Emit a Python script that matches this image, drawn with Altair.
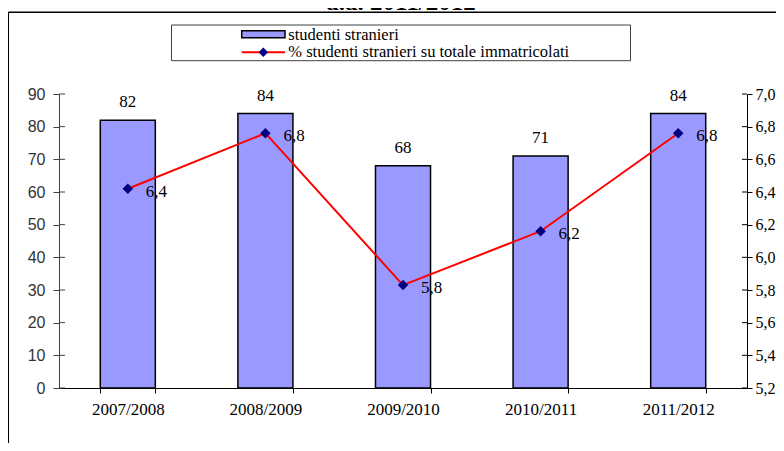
import altair as alt
import pandas as pd

# ---- data ----
years = ["2007/2008", "2008/2009", "2009/2010", "2010/2011", "2011/2012"]
students = [82, 84, 68, 71, 84]
pct = [6.42, 6.76, 5.83, 6.16, 6.76]
pct_labels = ["6,4", "6,8", "5,8", "6,2", "6,8"]
left_ticks = [0, 10, 20, 30, 40, 50, 60, 70, 80, 90]
right_ticks = [5.2, 5.4, 5.6, 5.8, 6.0, 6.2, 6.4, 6.6, 6.8, 7.0]
title_text = "a.a. 2011/2012"
legend_labels = ["studenti  stranieri", "% studenti stranieri su totale immatricolati"]

df = pd.DataFrame({"anno": years, "studenti": students, "pct": pct, "pct_label": pct_labels})
df_lt = pd.DataFrame({"v": left_ticks})
df_rt = pd.DataFrame({"v": right_ticks})

SERIF = "Liberation Serif"
SANS = "Liberation Sans"
BAR_FILL = "#9999FF"
NAVY = "#000080"

x = alt.X(
    "anno:N", sort=years,
    scale=alt.Scale(paddingInner=0.6, paddingOuter=0.3),
    axis=alt.Axis(title=None, labelAngle=0, labelFont=SERIF, labelFontSize=17,
                  labelColor="black", domainColor="black", tickColor="black",
                  tickSize=5, labelPadding=8, tickBand="extent"),
)

left_scale = alt.Scale(domain=[0, 90], nice=False)
right_scale = alt.Scale(domain=[5.2, 7.0], nice=False)

left_axis = alt.Axis(title=None, orient="left", values=left_ticks, labelFont=SANS,
                     labelFontSize=16, labelColor="#333333", domainColor="#404040",
                     tickColor="#404040", tickSize=6, labelPadding=8)
right_axis = alt.Axis(title=None, orient="right", values=right_ticks, labelFont=SERIF,
                      labelFontSize=16, labelColor="black", domainColor="black",
                      tickColor="black", tickSize=5, labelPadding=3,
                      labelExpr="replace(format(datum.value, '.1f'), '.', ',')")

y_left = alt.Y("studenti:Q", scale=left_scale, axis=left_axis)
y_right = alt.Y("pct:Q", scale=right_scale, axis=right_axis)

base = alt.Chart(df)

bars = base.mark_bar(color=BAR_FILL, stroke="black", strokeWidth=1.5).encode(x=x, y=y_left)
bar_text = base.mark_text(baseline="alphabetic", dy=-13, font=SERIF, fontSize=17,
                          color="black").encode(x=x, y=y_left, text="studenti:Q")
left_inner_ticks = alt.Chart(df_lt).mark_rule(color="#404040", strokeWidth=1).encode(
    y=alt.Y("v:Q", scale=left_scale, axis=left_axis), x=alt.value(0), x2=alt.value(6))
left = alt.layer(bars, bar_text, left_inner_ticks)

line = base.mark_line(color="red", strokeWidth=2).encode(x=x, y=y_right)
pts = base.mark_point(shape="diamond", filled=True, color=NAVY, size=110,
                      opacity=1).encode(x=x, y=y_right)
line_text = base.mark_text(align="left", baseline="alphabetic", dx=18, dy=8,
                           font=SERIF, fontSize=17, color="black").encode(
    x=x, y=y_right, text="pct_label:N")
right_inner_ticks = alt.Chart(df_rt).mark_rule(color="black", strokeWidth=1).encode(
    y=alt.Y("v:Q", scale=right_scale, axis=right_axis), x=alt.value(683), x2=alt.value(688))
right = alt.layer(line, pts, line_text, right_inner_ticks)

one = alt.Data(values=[{}])

frame_top = alt.Chart(one).mark_rule(color="black", strokeWidth=1.5).encode(
    x=alt.value(-50.7), x2=alt.value(730), y=alt.value(-81.7))
frame_left = alt.Chart(one).mark_rule(color="black", strokeWidth=1.5).encode(
    x=alt.value(-50.7), y=alt.value(-81.7), y2=alt.value(360))

title = alt.Chart(one).mark_text(font=SERIF, fontSize=25, fontWeight="bold",
                                 align="center", baseline="alphabetic",
                                 color="black").encode(
    x=alt.value(342), y=alt.value(-84.5), text=alt.value(title_text))

leg_box = alt.Chart(one).mark_rect(fill="white", stroke="#404040", strokeWidth=1).encode(
    x=alt.value(112.5), x2=alt.value(571.5), y=alt.value(-69), y2=alt.value(-33.3))
leg_swatch = alt.Chart(one).mark_rect(fill=BAR_FILL, stroke="black", strokeWidth=1.5).encode(
    x=alt.value(182.7), x2=alt.value(226), y=alt.value(-63.3), y2=alt.value(-56.3))
leg_text1 = alt.Chart(one).mark_text(align="left", baseline="middle", font=SERIF,
                                     fontSize=16.5, color="black").encode(
    x=alt.value(229.3), y=alt.value(-59), text=alt.value(legend_labels[0]))
leg_line = alt.Chart(one).mark_rule(color="red", strokeWidth=2).encode(
    x=alt.value(182.7), x2=alt.value(226), y=alt.value(-41.7))
leg_pt = alt.Chart(one).mark_point(shape="diamond", filled=True, color=NAVY, size=90,
                                   opacity=1).encode(x=alt.value(204.3), y=alt.value(-41.7))
leg_text2 = alt.Chart(one).mark_text(align="left", baseline="middle", font=SERIF,
                                     fontSize=16.5, color="black").encode(
    x=alt.value(229.3), y=alt.value(-42), text=alt.value(legend_labels[1]))

chart = alt.layer(
    frame_top, frame_left, title,
    left, right,
    leg_box, leg_swatch, leg_text1, leg_line, leg_pt, leg_text2,
).resolve_scale(y="independent").properties(
    width=688, height=294,
    padding={"left": 51, "top": 86, "right": 29, "bottom": 55},
    autosize=alt.AutoSizeParams(type="none"),
    background="white",
).configure_view(stroke=None).configure_axis(grid=False)

chart.save("out.html", embed_options={"renderer": "svg", "actions": False})
